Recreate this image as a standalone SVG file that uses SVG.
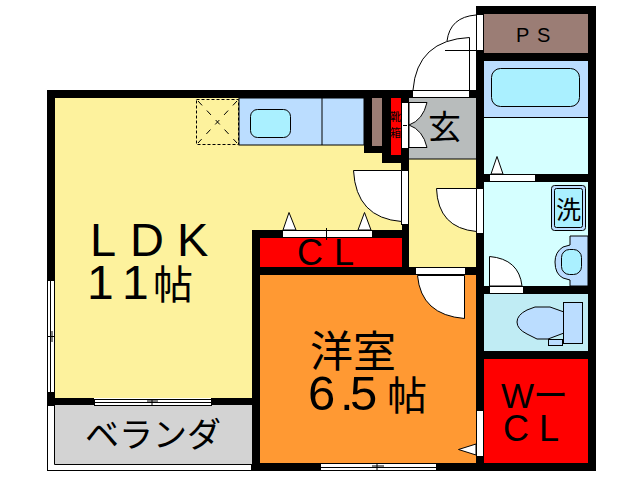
<svg xmlns="http://www.w3.org/2000/svg" width="638" height="480" viewBox="0 0 638 480">
<style>
.k{fill:#000}
.w{fill:#fff}
.ln{fill:none;stroke:#000;stroke-width:1}
.dr{fill:#fff;stroke:#000;stroke-width:1}
.bl{fill:#bbddff;stroke:#000;stroke-width:1}
.tb{fill:#aaf0ff;stroke:#000;stroke-width:1}
.sl{fill:#fff;stroke:#000;stroke-width:1}
text{font-family:"Liberation Sans","Noto Sans CJK JP",sans-serif;fill:#000}
</style>
<rect width="638" height="480" fill="#fff"/>
<g id="ldk">
<rect x="55" y="98" width="197" height="300" fill="#fdf29d"/>
<rect x="252" y="98" width="157" height="132" fill="#fdf29d"/>
<text font-size="47" x="90 130 177" y="256">LDK</text>
<text font-size="48" x="87 122" y="299">11<tspan font-size="40" x="153">帖</tspan></text>
</g>
<g id="kitchen">
<rect x="239" y="98" width="125" height="47" class="bl"/>
<path d="M322 98V145" class="ln"/>
<rect x="250.500" y="109.500" width="40" height="28" rx="7" class="tb"/>
<rect x="196.500" y="99.500" width="42" height="45" fill="none" stroke="#000" stroke-dasharray="3 2"/>
<path d="M198 101L237 143M237 101L198 143" fill="none" stroke="#000" stroke-dasharray="6 7"/>
</g>
<g id="hall">
<rect x="409" y="159" width="67" height="108" fill="#fdf29d"/>
</g>
<g id="genkan">
<rect x="409" y="98" width="67" height="61" fill="#b8bcbc"/>
<path d="M409 159H476" class="ln"/>
<text font-size="33" x="428" y="139">玄</text>
</g>
<g id="ps">
<rect x="484" y="14" width="104" height="39" fill="#9b7d75"/>
<text font-size="20" x="516 537" y="42">PS</text>
</g>
<g id="bath">
<rect x="484" y="61" width="104" height="56" fill="#bbddff"/>
<rect x="484" y="117" width="104" height="57" fill="#d5ffff"/>
<path d="M484 117.500H588" class="ln"/>
<rect x="491.500" y="68.500" width="88" height="38" rx="9" class="tb"/>
</g>
<g id="wash">
<rect x="484" y="182" width="104" height="104" fill="#d5ffff"/>
<rect x="551.500" y="185.500" width="34" height="45" rx="3" fill="#bbddff" stroke="#000"/>
<rect x="554.500" y="188.500" width="28" height="39" rx="2" class="tb"/>
<text font-size="25" x="556" y="219">洗</text>
<path d="M588 236H570V245L563 247Q555 252 555 262Q555 274 563 278L570 280V286H588Z" class="bl"/>
<rect x="561.500" y="249.500" width="20" height="25" rx="8" class="tb"/>
</g>
<g id="toilet">
<rect x="484" y="294" width="104" height="57" fill="#c0ecf4"/>
<path d="M564 312L550 307H535L527 310Q517 315 517 322Q517 329 527 334L537 339H548L564 333Z" class="bl"/>
<rect x="563.500" y="302.500" width="19" height="41" class="bl"/>
<rect x="548.500" y="339.500" width="14" height="6" class="bl"/>
</g>
<g id="wcl">
<rect x="484" y="359" width="104" height="104" fill="#f00"/>
<text font-size="35" x="501 533" y="408">Wー</text>
<text font-size="36" x="503 539" y="441">CL</text>
</g>
<g id="cl">
<rect x="260" y="238" width="142" height="29" fill="#f00"/>
<text font-size="36" x="297 334" y="265">CL</text>
</g>
<g id="western">
<rect x="260" y="275" width="216" height="188" fill="#f93"/>
<text font-size="43" x="310" y="367">洋室</text>
<text font-size="49" x="308 340 350" y="410">6.5<tspan font-size="40" x="387">帖</tspan></text>
</g>
<g id="veranda">
<rect x="47.500" y="405.500" width="204" height="65" fill="#fff" stroke="#000"/>
<rect x="54" y="405" width="198" height="59" fill="#d3d3d3"/>
<path d="M54.500 405V464.500H252" class="ln"/>
<text font-size="34" x="85" y="447">ベランダ</text>
</g>
<g id="walls">
<path class="k" d="M47 90H412V98H409V102H401V98H391V155H401V148H409V170H401V163H382V153H364V98H55V273H47Z"/>
<rect class="k" x="47" y="392" width="8" height="6"/>
<rect class="k" x="47" y="398" width="47" height="7"/>
<rect class="k" x="211" y="398" width="41" height="7"/>
<rect class="k" x="252" y="230" width="30" height="8"/>
<rect class="k" x="252" y="230" width="8" height="241"/>
<rect class="k" x="260" y="267" width="155" height="8"/>
<rect class="k" x="402" y="224" width="7" height="51"/>
<rect class="k" x="372" y="230" width="37" height="8"/>
<rect class="k" x="465" y="267" width="11" height="8"/>
<rect class="k" x="469" y="90" width="15" height="8"/>
<rect class="k" x="476" y="6" width="120" height="8"/>
<rect class="k" x="476" y="50" width="8" height="138"/>
<rect class="k" x="476" y="53" width="112" height="8"/>
<rect class="k" x="476" y="233" width="8" height="177"/>
<rect class="k" x="476" y="456" width="8" height="7"/>
<rect class="k" x="588" y="6" width="8" height="465"/>
<rect class="k" x="484" y="174" width="104" height="8"/>
<rect class="k" x="484" y="286" width="104" height="8"/>
<rect class="k" x="476" y="351" width="112" height="8"/>
<rect class="k" x="260" y="463" width="60" height="8"/>
<rect class="k" x="436" y="463" width="160" height="8"/>
<rect class="k" x="47" y="273" width="8" height="7"/>
</g>
<g id="shoebox">
<rect x="372" y="98" width="10" height="48" fill="#9b7d75"/>
<rect x="391" y="98" width="10" height="57" fill="#f00"/>
<text font-size="11" x="390" y="121">靴</text>
<text font-size="11" x="390" y="137">箱</text>
</g>
<g id="connectors">
<rect class="sl" x="476.500" y="14.500" width="7" height="36"/>
<rect class="sl" x="412.500" y="90.500" width="57" height="7"/>
<rect class="sl" x="401.500" y="102.500" width="7" height="46"/>
<rect class="sl" x="401.500" y="170.500" width="7" height="54"/>
<rect class="sl" x="476.500" y="188.500" width="7" height="45"/>
<rect class="sl" x="489.500" y="174.500" width="46" height="7"/>
<rect class="sl" x="489.500" y="286.500" width="34" height="7"/>
<rect class="sl" x="415.500" y="267.500" width="50" height="7"/>
<rect class="sl" x="476.500" y="410.500" width="7" height="46"/>
<rect class="sl" x="282.500" y="230.500" width="90" height="7"/>
<path d="M326.500 228V240" class="ln"/>
<rect class="sl" x="320.500" y="463.500" width="116" height="7"/>
<path d="M321 467.500H436M377 464V470M372 466H384" class="ln"/>
<rect class="sl" x="94.500" y="399.500" width="117" height="6"/>
<path d="M95 402.500H211M152 399V405M147 401H158" class="ln"/>
<rect class="sl" x="47.500" y="280.500" width="7" height="112"/>
<path d="M50.500 280V392M47 336.500H54M52 331V342" class="ln"/>
<path class="ln" d="M476 15Q450 17 447 41"/>
<path class="ln" d="M445 50.500H476"/>
<path class="ln" d="M469.500 90V37.500Q417 40 413 90"/>
<path class="dr" d="M409 102.500H427Q423 120 409 125Z"/>
<path class="dr" d="M409 147.500H427Q423 130 409 125Z"/>
<path class="ln" d="M403 125.500H407"/>
<path class="dr" d="M353.500 170.500H401.500V221.500Q356 218 353.500 170.500Z"/>
<path class="dr" d="M436.500 188.500H476.500V231.500Q438 228 436.500 188.500Z"/>
<path class="dr" d="M417.500 275.500H464.500V318.500Q421 315 417.500 275.500Z"/>
<path class="dr" d="M489.500 286V256.500Q519 259 522 286Z"/>
<path class="dr" d="M497 156.500L491 174H503Z"/>
<path class="dr" d="M289 212.500L283 230H296Z"/>
<path class="dr" d="M364.500 212.500L358 230H371Z"/>
<path class="dr" d="M458.500 449.500L476 444V455Z"/>
</g>
</svg>
